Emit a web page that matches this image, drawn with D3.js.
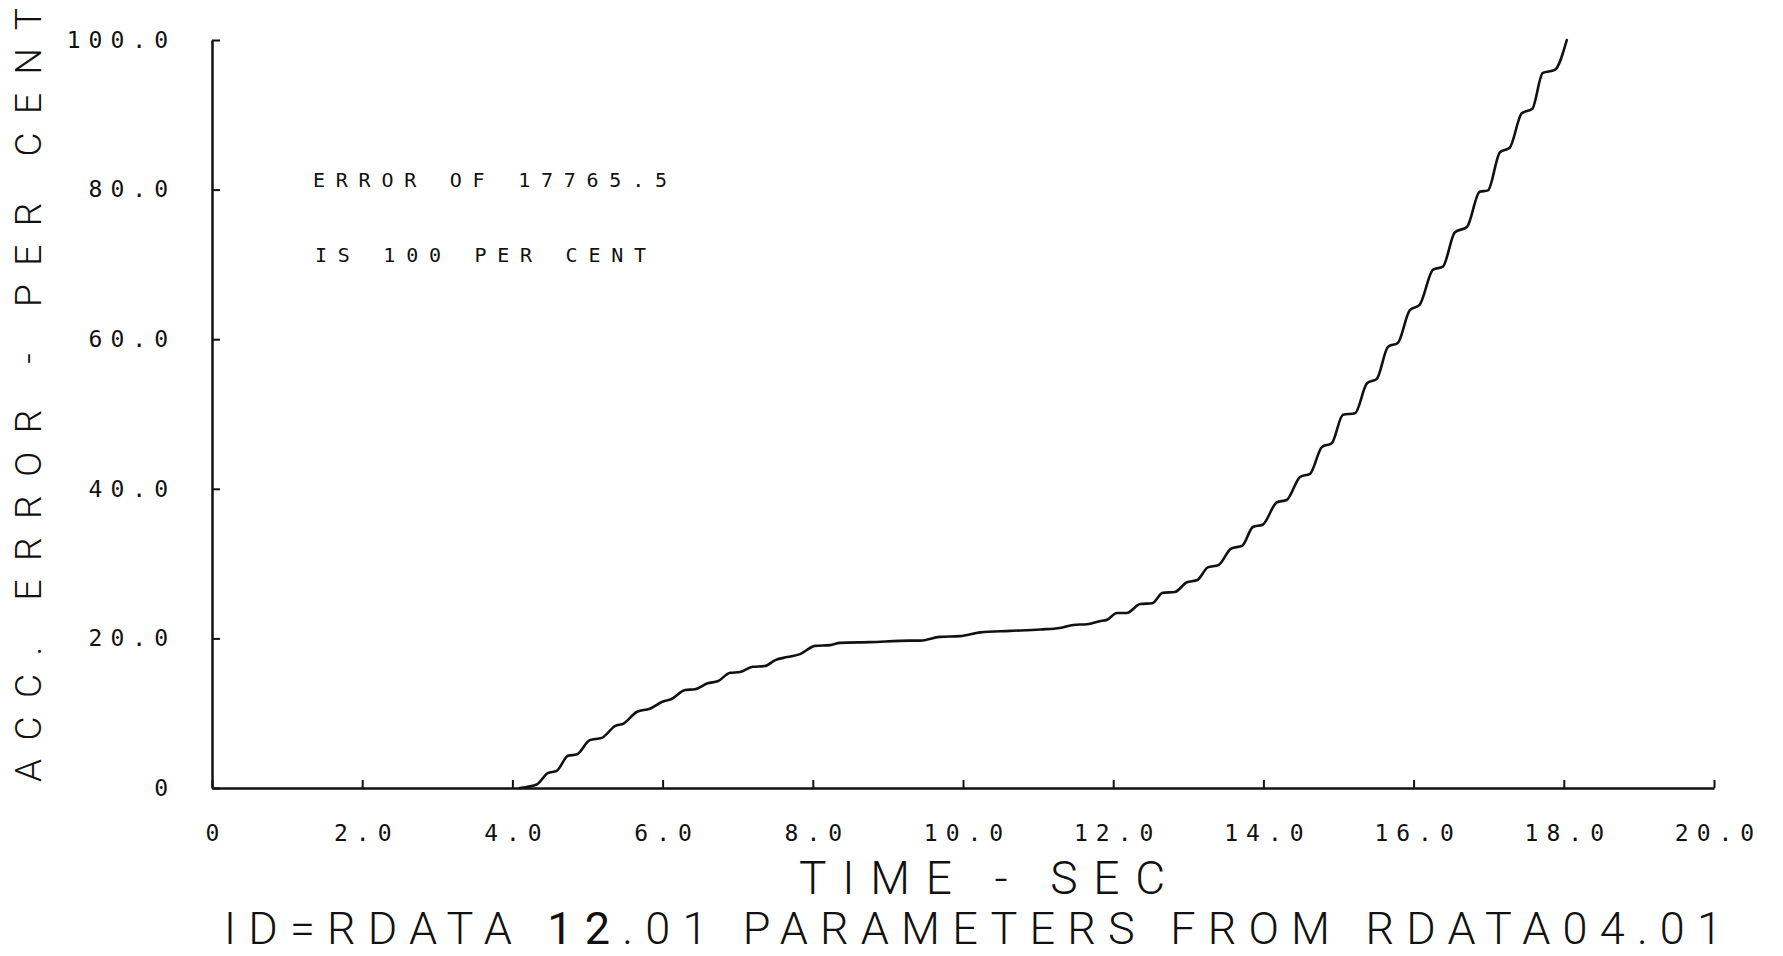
<html>
<head>
<script src="https://d3js.org/d3.v7.min.js"></script>
<style>
  body { margin: 0; background: #fff; }
  .tick text { font-family: "DejaVu Sans Mono", monospace; font-size: 23px; fill: #111; letter-spacing: 8px; }
  .domain { stroke: #111; stroke-width: 2.5; }
  .tick line { stroke: #111; stroke-width: 2; }
</style>
</head>
<body>
<script>
  // values (time in sec, accumulated error in per cent)
  let timeSec = [4.10, 4.33, 4.47, 4.59, 4.74, 4.86, 5.03, 5.19, 5.37, 5.48, 5.66, 5.83, 5.99, 6.12,
    6.30, 6.43, 6.60, 6.74, 6.90, 7.03, 7.20, 7.36, 7.50, 7.66, 7.83, 8.03, 8.23, 8.36, 8.76,
    9.29, 9.43, 9.69, 9.96, 10.23, 10.63, 11.03, 11.29, 11.47, 11.65, 11.82, 11.92, 12.05, 12.18,
    12.36, 12.52, 12.66, 12.82, 12.98, 13.12, 13.26, 13.40, 13.57, 13.72, 13.86, 13.99, 14.18, 14.31,
    14.49, 14.62, 14.78, 14.91, 15.06, 15.22, 15.38, 15.51, 15.66, 15.79, 15.95, 16.08, 16.26, 16.39,
    16.55, 16.71, 16.88, 16.99, 17.15, 17.28, 17.44, 17.58, 17.72, 17.88, 18.04];
  let accError = [0, 0.5, 2.0, 2.3, 4.3, 4.5, 6.4, 6.7, 8.3, 8.6, 10.2, 10.6, 11.5, 11.9,
    13.1, 13.2, 14.0, 14.3, 15.4, 15.5, 16.2, 16.3, 17.1, 17.5, 17.9, 19.0, 19.1, 19.4, 19.5,
    19.7, 19.7, 20.2, 20.3, 20.8, 21.0, 21.2, 21.4, 21.8, 21.9, 22.3, 22.5, 23.4, 23.4,
    24.6, 24.7, 26.1, 26.2, 27.5, 27.8, 29.5, 29.8, 32.0, 32.4, 34.9, 35.2, 38.2, 38.5,
    41.6, 42.0, 45.6, 46.1, 49.9, 50.1, 54.1, 54.7, 59.0, 59.5, 63.9, 64.6, 69.3, 69.7,
    74.3, 75.0, 79.7, 79.9, 85.0, 85.6, 90.2, 90.8, 95.6, 96.0, 100.0];

  let xTicks = [0, 2, 4, 6, 8, 10, 12, 14, 16, 18, 20];
  let xTickLabels = ["0", "2.0", "4.0", "6.0", "8.0", "10.0", "12.0", "14.0", "16.0", "18.0", "20.0"];
  let yTicks = [0, 20, 40, 60, 80, 100];
  let yTickLabels = ["0", "20.0", "40.0", "60.0", "80.0", "100.0"];

  let width = 1783, height = 956;

  let svg = d3.select("body").append("svg")
      .attr("width", width)
      .attr("height", height);

  svg.append("rect").attr("width", width).attr("height", height).attr("fill", "#fff");

  let x = d3.scaleLinear().domain([0, 20]).range([212, 1714]);
  let y = d3.scaleLinear().domain([0, 100]).range([788, 40]);

  // axes, ticks point inward
  svg.append("g")
    .attr("transform", "translate(0," + y(0) + ")")
    .call(d3.axisBottom(x).tickValues(xTicks)
      .tickFormat((d, i) => xTickLabels[i])
      .tickSizeInner(-8).tickSizeOuter(0).tickPadding(37))
    .selectAll(".tick text").attr("dx", 4);

  svg.append("g")
    .attr("transform", "translate(" + x(0) + ",0)")
    .call(d3.axisLeft(y).tickValues(yTicks)
      .tickFormat((d, i) => yTickLabels[i])
      .tickSizeInner(-8).tickSizeOuter(0).tickPadding(44))
    .selectAll(".tick text").attr("dx", 8);

  svg.selectAll(".domain").attr("fill", "none");

  // the curve
  let points = timeSec.map((t, i) => [t, accError[i]]);
  let line = d3.line()
      .x(d => x(d[0]))
      .y(d => y(d[1]))
      .curve(d3.curveMonotoneX);

  svg.append("path")
    .datum(points)
    .attr("d", line)
    .attr("fill", "none")
    .attr("stroke", "#111")
    .attr("stroke-width", 2.6)
    .attr("stroke-linejoin", "round")
    .attr("stroke-linecap", "round");

  // note inside the plot
  svg.append("text")
    .attr("x", 313).attr("y", 187)
    .attr("textLength", 354).attr("lengthAdjust", "spacing")
    .style("font-family", "DejaVu Sans Mono").style("font-size", "20px").attr("fill", "#111")
    .text("ERROR OF 17765.5");

  svg.append("text")
    .attr("x", 315).attr("y", 262)
    .attr("textLength", 331).attr("lengthAdjust", "spacing")
    .style("font-family", "DejaVu Sans Mono").style("font-size", "20px").attr("fill", "#111")
    .text("IS 100 PER CENT");

  // axis titles
  svg.append("text")
    .attr("x", 799).attr("y", 894)
    .attr("textLength", 366).attr("lengthAdjust", "spacing")
    .style("font-family", "Roboto").style("font-weight", 300).style("font-size", "46px").attr("fill", "#111")
    .text("TIME - SEC");

  svg.append("text")
    .attr("transform", "translate(41,782) rotate(-90)")
    .attr("textLength", 774).attr("lengthAdjust", "spacing")
    .style("font-family", "Roboto").style("font-weight", 300).style("font-size", "37px").attr("fill", "#111")
    .text("ACC. ERROR - PER CENT");

  let idLine = svg.append("text")
    .attr("x", 224).attr("y", 944)
    .attr("textLength", 1498).attr("lengthAdjust", "spacing")
    .style("font-family", "Roboto").style("font-weight", 300).style("font-size", "45px").attr("fill", "#111");
  idLine.append("tspan").text("ID=RDATA ");
  idLine.append("tspan").style("font-weight", 400).text("12");
  idLine.append("tspan").text(".01 PARAMETERS FROM RDATA04.01");
</script>
</body>
</html>
